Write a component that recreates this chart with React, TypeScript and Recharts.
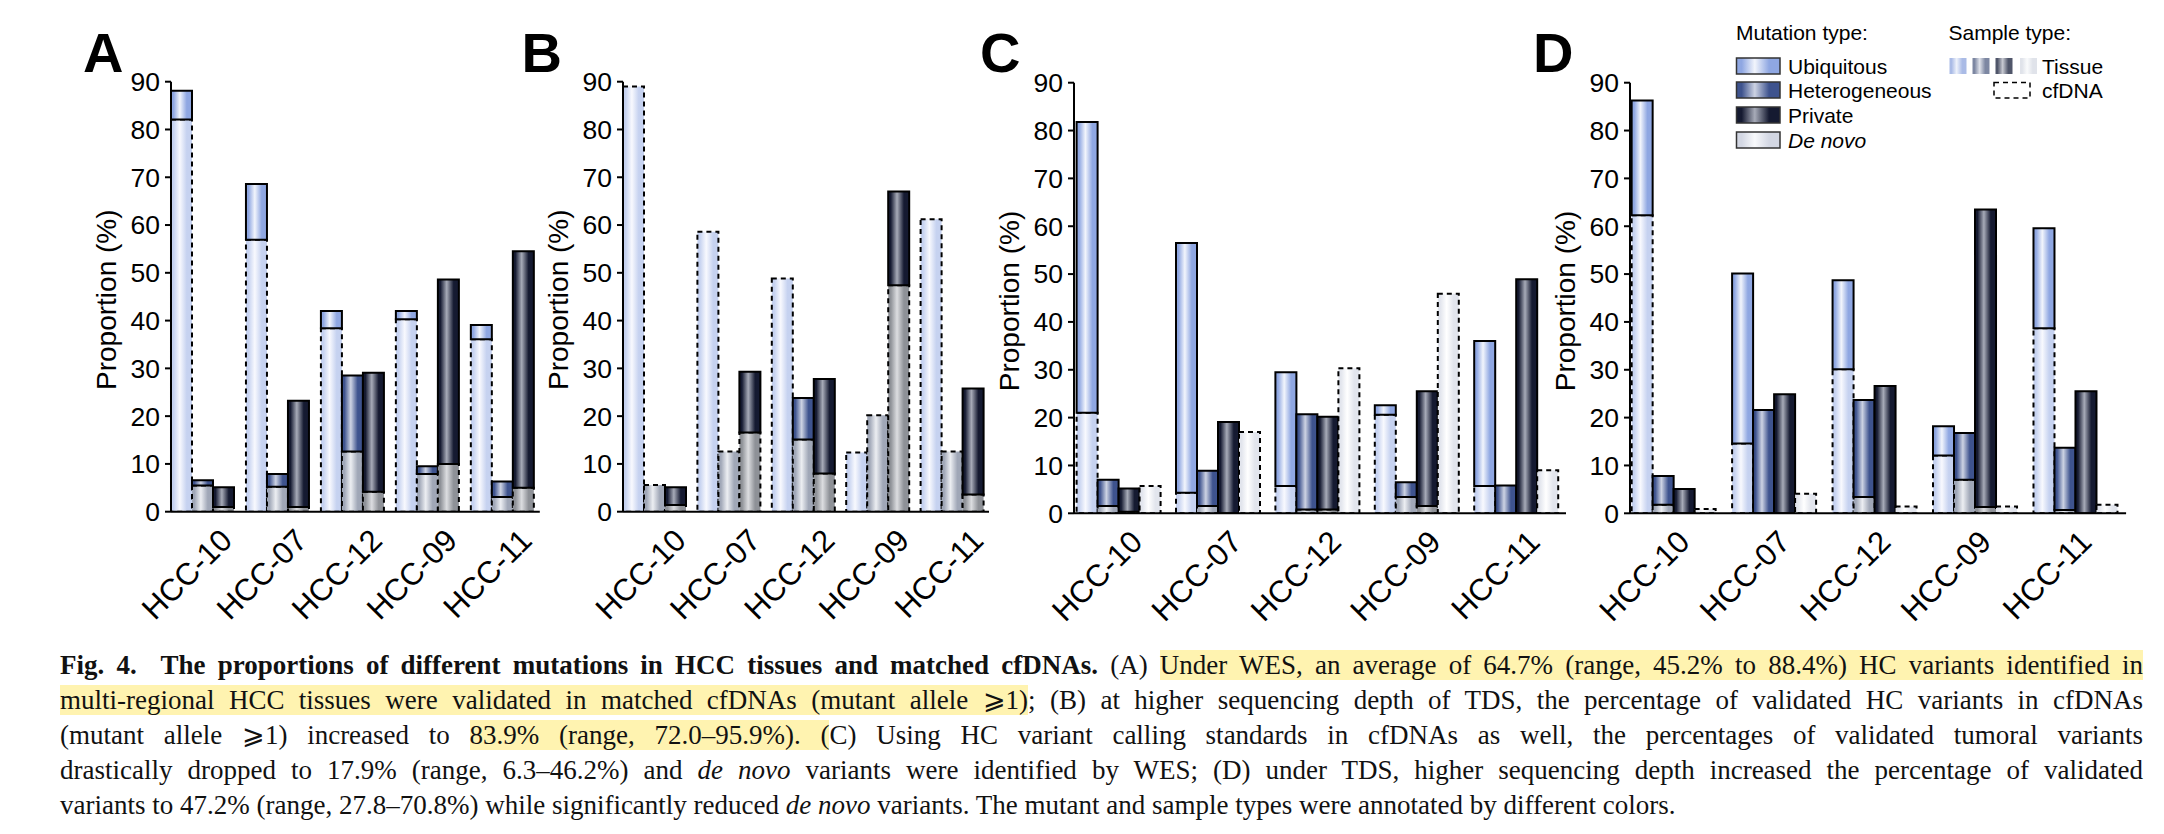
import React from 'react';
import { BarChart, Bar, XAxis, YAxis } from 'recharts';

// ---------- data ----------
const categories = ['HCC-10', 'HCC-07', 'HCC-12', 'HCC-09', 'HCC-11'];
const yTicks = [0, 10, 20, 30, 40, 50, 60, 70, 80, 90];

// Panel A (WES): tissue total (%) and the part validated in cfDNA (%)
const aUbiTotal = [88.1, 68.6, 42.0, 42.0, 39.1];
const aUbiCf = [82.1, 56.9, 38.4, 40.3, 36.1];
const aHetTotal = [6.6, 7.9, 28.5, 9.5, 6.3];
const aHetCf = [5.5, 5.2, 12.6, 7.9, 3.1];
const aPrivTotal = [5.1, 23.2, 29.1, 48.6, 54.5];
const aPrivCf = [1.0, 1.0, 4.2, 10.0, 5.0];

// Panel B (TDS)
const bUbiTotal = [89.0, 58.6, 48.8, 12.4, 61.2];
const bUbiCf = [89.0, 58.6, 48.8, 12.4, 61.2];
const bHetTotal = [5.6, 12.6, 23.8, 20.2, 12.6];
const bHetCf = [5.6, 12.6, 15.1, 20.2, 12.6];
const bPrivTotal = [5.1, 29.3, 27.8, 67.0, 25.8];
const bPrivCf = [1.4, 16.6, 8.0, 47.4, 3.6];

// Panel C (WES, HC calling in cfDNA)
const cUbiTotal = [81.8, 56.5, 29.5, 22.6, 36.0];
const cUbiCf = [21.0, 4.3, 5.7, 20.6, 5.7];
const cHetTotal = [7.0, 8.9, 20.7, 6.5, 5.8];
const cHetCf = [1.5, 1.5, 0.8, 3.4, 0];
const cPrivTotal = [5.2, 19.1, 20.2, 25.5, 48.9];
const cPrivCf = [0.3, 0, 0.8, 1.5, 0];
const cDeNovo = [5.7, 17.0, 30.3, 45.9, 9.0];

// Panel D (TDS, HC calling in cfDNA)
const dUbiTotal = [86.3, 50.1, 48.7, 18.2, 59.6];
const dUbiCf = [62.3, 14.6, 30.1, 12.1, 38.7];
const dHetTotal = [7.8, 21.6, 23.7, 16.8, 13.7];
const dHetCf = [1.8, 0, 3.4, 7.0, 0.7];
const dPrivTotal = [5.1, 24.9, 26.6, 63.5, 25.5];
const dPrivCf = [0, 0, 0, 1.3, 0];
const dDeNovo = [0.9, 4.1, 1.4, 1.4, 1.8];

const mutationTypes = ['Ubiquitous', 'Heterogeneous', 'Private', 'De novo'];
const sampleTypes = ['Tissue', 'cfDNA'];

// ---------- helpers ----------
function buildRows(
  ut: number[], uc: number[], ht: number[], hc: number[], pt: number[], pc: number[], dn?: number[]
) {
  return categories.map((name, i) => ({
    name,
    uCf: uc[i],
    uT: Math.max(0, ut[i] - uc[i]),
    hCf: hc[i],
    hT: Math.max(0, ht[i] - hc[i]),
    pCf: pc[i],
    pT: Math.max(0, pt[i] - pc[i]),
    dn: dn ? dn[i] : 0,
  }));
}

const SANS = '"Liberation Sans", Arial, Helvetica, sans-serif';
const SERIF = '"Liberation Serif", "Times New Roman", serif';

const GRADS: { id: string; base: string; hi: string }[] = [
  { id: 'gUT', base: '#8fa7e2', hi: '#f2f5fc' },
  { id: 'gUC', base: '#c6d2f0', hi: '#f8f9fe' },
  { id: 'gHT', base: '#3e538e', hi: '#cdd3e3' },
  { id: 'gHC', base: '#a0a7b7', hi: '#eceef2' },
  { id: 'gPT', base: '#151a31', hi: '#a7abb8' },
  { id: 'gPC', base: '#8e9197', hi: '#dcdde0' },
  { id: 'gDN', base: '#e2e5ed', hi: '#ffffff' },
  { id: 'gDL', base: '#d3d7e3', hi: '#f8f9fb' },
  { id: 'gS1', base: '#aabbe6', hi: '#eef2fb' },
  { id: 'gS2', base: '#7d87a2', hi: '#dfe2ea' },
  { id: 'gS3', base: '#50566a', hi: '#c8cad2' },
  { id: 'gS4', base: '#e0e3ea', hi: '#fafbfc' },
];

type PanelCfg = {
  letter: string;
  letterX: number;
  axisX: number;
  top: number;
  bottom: number;
  end: number;
  padLeft: number;
  catGap: number;
  labelDx: number;
  rows: any[];
  deNovo: boolean;
};

const panels: PanelCfg[] = [
  { letter: 'A', letterX: 83, axisX: 171.2, top: 81.7, bottom: 511.7, end: 540, padLeft: -6, catGap: 6, labelDx: 16,
    rows: buildRows(aUbiTotal, aUbiCf, aHetTotal, aHetCf, aPrivTotal, aPrivCf), deNovo: false },
  { letter: 'B', letterX: 521.5, axisX: 623.4, top: 81.7, bottom: 511.7, end: 989.4, padLeft: -6, catGap: 6, labelDx: 18,
    rows: buildRows(bUbiTotal, bUbiCf, bHetTotal, bHetCf, bPrivTotal, bPrivCf), deNovo: false },
  { letter: 'C', letterX: 980, axisX: 1074, top: 82.7, bottom: 513.3, end: 1566, padLeft: -5, catGap: 7.6, labelDx: 10,
    rows: buildRows(cUbiTotal, cUbiCf, cHetTotal, cHetCf, cPrivTotal, cPrivCf, cDeNovo), deNovo: true },
  { letter: 'D', letterX: 1533, axisX: 1630.4, top: 82.7, bottom: 513.3, end: 2126.5, padLeft: -6.2, catGap: 7.85, labelDx: 2,
    rows: buildRows(dUbiTotal, dUbiCf, dHetTotal, dHetCf, dPrivTotal, dPrivCf, dDeNovo), deNovo: true },
];

const Y_AXIS_W = 120;

function PanelChart({ cfg }: { cfg: PanelCfg }) {
  const chartLeft = cfg.axisX - Y_AXIS_W;
  const rightM = 12;
  const width = cfg.end - chartLeft + rightM;
  const height = 650;
  const xAxisH = 100;
  const mb = height - cfg.bottom - xAxisH;
  const solid = { stroke: '#000', strokeWidth: 2 };
  const dashed = { stroke: '#000', strokeWidth: 2, strokeDasharray: '5 4' };
  const xTick = (props: any) => {
    const { x, y, payload } = props;
    const ax = x + cfg.labelDx + 15.5;
    const ay = y + 30.5;
    return (
      <text x={ax} y={ay} textAnchor="end" transform={`rotate(-45 ${ax} ${ay})`}
        fontSize={31} fontFamily={SANS} fill="#000">{payload.value}</text>
    );
  };
  return (
    <div style={{ position: 'absolute', left: chartLeft, top: 0 }}>
      <BarChart width={width} height={height} data={cfg.rows}
        margin={{ top: cfg.top, right: rightM, left: 0, bottom: mb }}
        barGap={0} barCategoryGap={cfg.catGap}>
        <XAxis dataKey="name" interval={0} tickLine={false} tickSize={0} tickMargin={0}
          axisLine={{ stroke: '#000', strokeWidth: 2 }} padding={{ left: cfg.padLeft, right: 0 }}
          height={xAxisH} tick={xTick} />
        <YAxis type="number" domain={[0, 90]} ticks={yTicks} interval={0} width={Y_AXIS_W}
          tickSize={6} tickMargin={5} allowDataOverflow
          axisLine={{ stroke: '#000', strokeWidth: 2 }} tickLine={{ stroke: '#000', strokeWidth: 2 }}
          tick={{ fill: '#000', fontSize: 26.5, fontFamily: SANS }} />
        <Bar dataKey="uCf" stackId="u" fill="url(#gUC)" {...dashed} isAnimationActive={false} />
        <Bar dataKey="uT" stackId="u" fill="url(#gUT)" {...solid} isAnimationActive={false} />
        <Bar dataKey="hCf" stackId="h" fill="url(#gHC)" {...dashed} isAnimationActive={false} />
        <Bar dataKey="hT" stackId="h" fill="url(#gHT)" {...solid} isAnimationActive={false} />
        <Bar dataKey="pCf" stackId="p" fill="url(#gPC)" {...dashed} isAnimationActive={false} />
        <Bar dataKey="pT" stackId="p" fill="url(#gPT)" {...solid} isAnimationActive={false} />
        {cfg.deNovo && (
          <Bar dataKey="dn" stackId="d" fill="url(#gDN)" {...dashed} isAnimationActive={false} />
        )}
      </BarChart>
    </div>
  );
}

function Legend() {
  const swatchFills = ['url(#gUT)', 'url(#gHT)', 'url(#gPT)', 'url(#gDL)'];
  const ys = [58, 82, 107, 132];
  const tissueFills = ['url(#gS1)', 'url(#gS2)', 'url(#gS3)', 'url(#gS4)'];
  const tx = [1949.5, 1972.5, 1995.5, 2020];
  return (
    <g fontFamily={SANS} fill="#000">
      <text x={1736} y={39.5} fontSize={21}>Mutation type:</text>
      {mutationTypes.map((m, i) => (
        <g key={m}>
          <rect x={1736.5} y={ys[i]} width={43.5} height={16} fill={swatchFills[i]} stroke="#333" strokeWidth={1.5} />
          <text x={1788} y={ys[i] + 15.5} fontSize={21} fontStyle={i === 3 ? 'italic' : 'normal'}>{m}</text>
        </g>
      ))}
      <text x={1948.5} y={39.5} fontSize={21}>Sample type:</text>
      {tx.map((x, i) => (
        <rect key={i} x={x} y={58} width={17} height={16} fill={tissueFills[i]} />
      ))}
      <text x={2042} y={73.5} fontSize={21}>{sampleTypes[0]}</text>
      <rect x={1994} y={82.5} width={36} height={15.5} fill="none" stroke="#000" strokeWidth={1.5} strokeDasharray="5 4" />
      <text x={2042} y={97.5} fontSize={21}>{sampleTypes[1]}</text>
    </g>
  );
}

const hl: React.CSSProperties = { background: '#fff3b0' };
const lineStyle: React.CSSProperties = { textAlign: 'justify', textAlignLast: 'justify', height: 35 };

export default function App() {
  return (
    <div style={{ position: 'absolute', left: 0, top: 0, width: 2164, height: 834, background: '#fff', overflow: 'hidden' }}>
      <svg width={0} height={0} style={{ position: 'absolute' }}>
        <defs>
          {GRADS.map((g) => (
            <linearGradient key={g.id} id={g.id} x1="0" y1="0" x2="1" y2="0">
              <stop offset="0" stopColor={g.base} />
              <stop offset="0.12" stopColor={g.base} />
              <stop offset="0.42" stopColor={g.hi} />
              <stop offset="0.75" stopColor={g.base} />
              <stop offset="1" stopColor={g.base} />
            </linearGradient>
          ))}
        </defs>
      </svg>
      {panels.map((p) => <PanelChart key={p.letter} cfg={p} />)}
      <svg width={2164} height={640} style={{ position: 'absolute', left: 0, top: 0, pointerEvents: 'none' }}>
        {panels.map((p) => {
          const cy = (p.top + p.bottom) / 2 + 3;
          const lx = p.axisX - 55;
          return (
            <g key={p.letter}>
              <text x={p.letterX} y={72} fontSize={56} fontWeight="bold" fontFamily={SANS} fill="#000">{p.letter}</text>
              <text x={lx} y={cy} fontSize={28} fontFamily={SANS} fill="#000" textAnchor="middle"
                transform={`rotate(-90 ${lx} ${cy})`}>Proportion (%)</text>
            </g>
          );
        })}
        <Legend />
      </svg>
      <div style={{ position: 'absolute', left: 60, top: 648.4, width: 2083, fontFamily: SERIF, fontSize: 27, lineHeight: '35px', color: '#111' }}>
        <div style={lineStyle}>
          <b>Fig. 4.&nbsp; The proportions of different mutations in HCC tissues and matched cfDNAs.</b> (A) <span style={hl}>Under WES, an average of 64.7% (range, 45.2% to 88.4%) HC variants identified in</span>
        </div>
        <div style={lineStyle}>
          <span style={hl}>multi-regional HCC tissues were validated in matched cfDNAs (mutant allele ⩾1)</span>; (B) at higher sequencing depth of TDS, the percentage of validated HC variants in cfDNAs
        </div>
        <div style={lineStyle}>
          (mutant allele ⩾1) increased to <span style={hl}>83.9% (range, 72.0–95.9%). (</span>C) Using HC variant calling standards in cfDNAs as well, the percentages of validated tumoral variants
        </div>
        <div style={lineStyle}>
          drastically dropped to 17.9% (range, 6.3–46.2%) and <i>de novo</i> variants were identified by WES; (D) under TDS, higher sequencing depth increased the percentage of validated
        </div>
        <div style={{ height: 35 }}>
          variants to 47.2% (range, 27.8–70.8%) while significantly reduced <i>de novo</i> variants. The mutant and sample types were annotated by different colors.
        </div>
      </div>
    </div>
  );
}
